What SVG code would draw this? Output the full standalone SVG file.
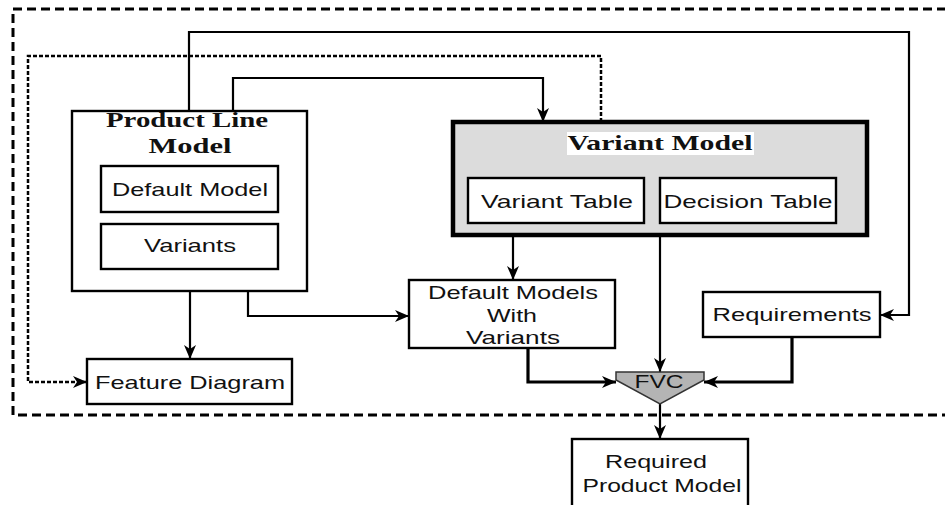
<svg xmlns="http://www.w3.org/2000/svg" width="945" height="505" viewBox="0 0 945 505">
<defs>
<marker id="ah" markerUnits="userSpaceOnUse" markerWidth="16" markerHeight="14" refX="14" refY="6" orient="auto">
<path d="M0,0 L14,6 L0,12 L4,6 z" fill="#000"/>
</marker>
<style>
.box{fill:#fff;stroke:#000;stroke-width:2.4}
.lbl{font-family:"Liberation Sans",Arial,sans-serif;font-size:19px;fill:#111;text-anchor:middle}
.ttl{font-family:"Liberation Serif","Times New Roman",serif;font-size:22px;font-weight:bold;fill:#111;text-anchor:middle}
.c{fill:none;stroke:#000;stroke-width:2.2;marker-end:url(#ah)}
.thick{stroke-width:3.2}
.dot{stroke-dasharray:4,2;stroke-width:2.5}
</style>
</defs>
<rect width="945" height="505" fill="#fff"/>
<path d="M946,9 H13 V415 H946" fill="none" stroke="#000" stroke-width="3" stroke-dasharray="9,5"/>
<g id="connectors">
<path class="c" d="M189,111 V32 H909 V315 H880"/>
<path class="c" d="M233,111 V78 H543 V122"/>
<path class="c dot" d="M601,122 V56 H28 V382 H87"/>
<path class="c" d="M190,291 V359"/>
<path class="c" d="M248,291 V316 H409"/>
<path class="c" d="M513,235 V280"/>
<path class="c" d="M660,235 V372"/>
<path class="c thick" d="M528,348 V382 H616"/>
<path class="c thick" d="M792,337 V382 H704"/>
<path class="c" d="M660,404 V439"/>
</g>
<g id="plm">
<rect class="box" x="72" y="111" width="235" height="180" stroke-width="3"/>
<text class="ttl" x="187" y="127" textLength="162" lengthAdjust="spacingAndGlyphs">Product Line</text>
<text class="ttl" x="190" y="153" textLength="83" lengthAdjust="spacingAndGlyphs">Model</text>
</g>
<g id="default-model">
<rect class="box" x="101" y="166" width="177" height="46"/>
<text class="lbl" x="190" y="196" textLength="156" lengthAdjust="spacingAndGlyphs">Default Model</text>
</g>
<g id="variants">
<rect class="box" x="101" y="224" width="177" height="45"/>
<text class="lbl" x="190" y="252" textLength="92" lengthAdjust="spacingAndGlyphs">Variants</text>
</g>
<g id="feature-diagram">
<rect class="box" x="87" y="359" width="205" height="45"/>
<text class="lbl" x="190" y="389" textLength="190" lengthAdjust="spacingAndGlyphs">Feature Diagram</text>
</g>
<g id="variant-model">
<rect x="453" y="122" width="414" height="113" fill="#dcdcdc" stroke="#000" stroke-width="4.5"/>
<rect x="567" y="132" width="187" height="23" fill="#fff"/>
<text class="ttl" x="660" y="150" textLength="185" lengthAdjust="spacingAndGlyphs">Variant Model</text>
</g>
<g id="variant-table">
<rect class="box" x="468" y="178" width="176" height="45"/>
<text class="lbl" x="557" y="208" textLength="152" lengthAdjust="spacingAndGlyphs">Variant Table</text>
</g>
<g id="decision-table">
<rect class="box" x="660" y="178" width="176" height="45"/>
<text class="lbl" x="748" y="208" textLength="169" lengthAdjust="spacingAndGlyphs">Decision Table</text>
</g>
<g id="default-models-with-variants">
<rect class="box" x="409" y="280" width="206" height="68"/>
<text class="lbl" x="513" y="299" textLength="170" lengthAdjust="spacingAndGlyphs">Default Models</text>
<text class="lbl" x="512" y="322" textLength="50" lengthAdjust="spacingAndGlyphs">With</text>
<text class="lbl" x="513" y="344" textLength="94" lengthAdjust="spacingAndGlyphs">Variants</text>
</g>
<g id="requirements">
<rect class="box" x="703" y="292" width="177" height="45"/>
<text class="lbl" x="792" y="321" textLength="159" lengthAdjust="spacingAndGlyphs">Requirements</text>
</g>
<g id="fvc">
<polygon points="616,372 704,372 704,380 660,404 616,380" fill="#b4b4b4" stroke="#333" stroke-width="1.5"/>
<text class="lbl" x="659" y="388" textLength="49" lengthAdjust="spacingAndGlyphs">FVC</text>
</g>
<g id="required-product-model">
<rect class="box" x="572" y="439" width="176" height="80"/>
<text class="lbl" x="656" y="468" textLength="102" lengthAdjust="spacingAndGlyphs">Required</text>
<text class="lbl" x="662" y="492" textLength="159" lengthAdjust="spacingAndGlyphs">Product Model</text>
</g>
</svg>
